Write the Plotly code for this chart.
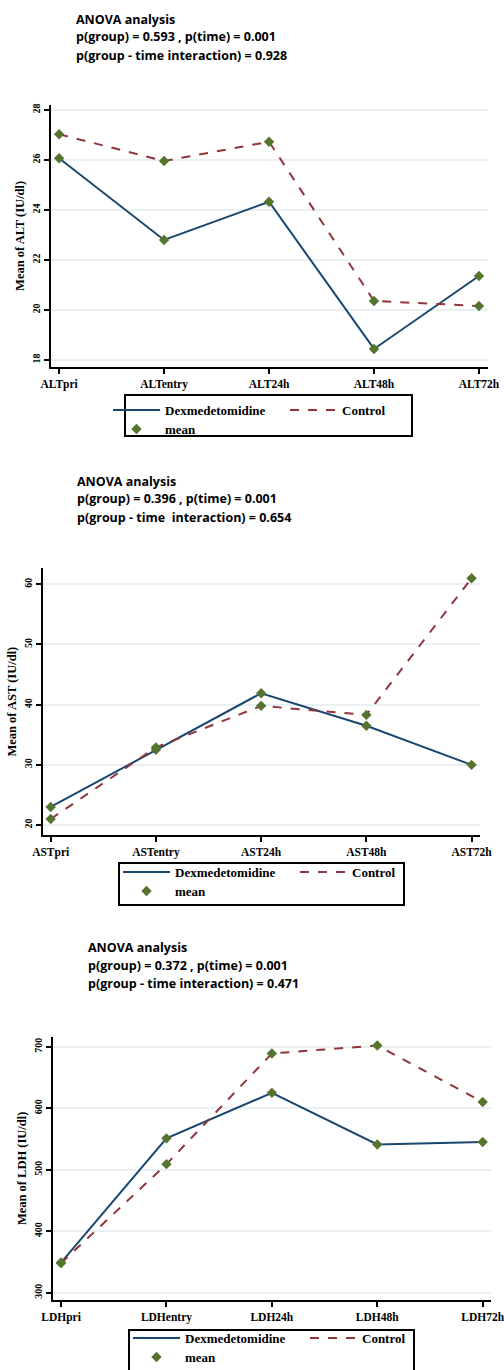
import plotly.graph_objects as go

W, H = 504, 1370

# ---------------- data ----------------
alt_labels = ["ALTpri", "ALTentry", "ALT24h", "ALT48h", "ALT72h"]
alt_dex = [26.07, 22.8, 24.33, 18.44, 21.36]
alt_ctrl = [27.03, 25.96, 26.73, 20.36, 20.16]
alt_ticks = [18, 20, 22, 24, 26, 28]
alt_title = ["ANOVA analysis",
             "p(group) = 0.593 , p(time) = 0.001",
             "p(group - time interaction) = 0.928"]

ast_labels = ["ASTpri", "ASTentry", "AST24h", "AST48h", "AST72h"]
ast_dex = [23.0, 32.5, 41.9, 36.5, 30.0]
ast_ctrl = [21.0, 32.9, 39.8, 38.3, 61.0]
ast_ticks = [20, 30, 40, 50, 60]
ast_title = ["ANOVA analysis",
             "p(group) = 0.396 , p(time) = 0.001",
             "p(group - time  interaction) = 0.654"]

ldh_labels = ["LDHpri", "LDHentry", "LDH24h", "LDH48h", "LDH72h"]
ldh_dex = [349, 551, 625, 541, 545]
ldh_ctrl = [348, 509, 689, 702, 610]
ldh_ticks = [300, 400, 500, 600, 700]
ldh_title = ["ANOVA analysis",
             "p(group) = 0.372 , p(time) = 0.001",
             "p(group - time interaction) = 0.471"]

series_names = ["Dexmedetomidine", "Control", "mean"]
ytitles = ["Mean of ALT (IU/dl)", "Mean of AST (IU/dl)", "Mean of LDH (IU/dl)"]

# ---------------- styling / layout geometry (pixels) ----------------
DEX_C = "#1a476f"
CTRL_C = "#90353b"
MEAN_C = "#55752f"
GRID_C = "#e8f0f2"
SERIF = "Liberation Serif"

panels = [
    dict(labels=alt_labels, dex=alt_dex, ctrl=alt_ctrl, ticks=alt_ticks, title=alt_title,
         px=(50.7, 488), py=(105, 366.7), yr=(17.73, 28.2), xr=(-0.08, 4.086),
         tx=74, ty=(19, 37, 55), leg=(108, 395), box=(125, 395, 412, 436)),
    dict(labels=ast_labels, dex=ast_dex, ctrl=ast_ctrl, ticks=ast_ticks, title=ast_title,
         px=(42.7, 480), py=(568.3, 835), yr=(18.34, 62.66), xr=(-0.076, 4.08),
         tx=75, ty=(481, 499, 517), leg=(118, 857), box=(119, 863, 404, 905)),
    dict(labels=ldh_labels, dex=ldh_dex, ctrl=ldh_ctrl, ticks=ldh_ticks, title=ldh_title,
         px=(52.7, 490.7), py=(1036.7, 1300), yr=(288.1, 716.3), xr=(-0.079, 4.076),
         tx=86, ty=(947, 965, 983), leg=(128, 1323), box=(129, 1330, 414, 1372)),
]

fig = go.Figure()
layout = dict(
    width=W, height=H,
    margin=dict(l=0, r=0, t=0, b=0, autoexpand=False),
    paper_bgcolor="white", plot_bgcolor="white",
    showlegend=True,
    annotations=[], shapes=[],
)

for i, p in enumerate(panels):
    n = "" if i == 0 else str(i + 1)
    xa, ya = "x" + n, "y" + n
    leg_a = "legend" if i == 0 else "legend" + str(2 * i + 1)
    leg_b = "legend" + str(2 * i + 2)

    fig.add_trace(go.Scatter(x=p["labels"], y=p["dex"], mode="lines", name=series_names[0],
                             line=dict(color=DEX_C, width=2), xaxis=xa, yaxis=ya,
                             legend=leg_a))
    fig.add_trace(go.Scatter(x=p["labels"], y=p["ctrl"], mode="lines", name=series_names[1],
                             line=dict(color=CTRL_C, width=2, dash="dash"), xaxis=xa, yaxis=ya,
                             legend=leg_a))
    fig.add_trace(go.Scatter(x=p["labels"] + p["labels"], y=p["dex"] + p["ctrl"], mode="markers",
                             name=series_names[2],
                             marker=dict(color=MEAN_C, size=8, symbol="diamond"),
                             xaxis=xa, yaxis=ya, legend=leg_b))

    x0, x1 = p["px"]
    y0, y1 = p["py"]
    layout["xaxis" + n] = dict(
        domain=[x0 / W, x1 / W], anchor=ya, type="category",
        range=list(p["xr"]), showgrid=False, zeroline=False, automargin=False,
        showline=True, linecolor="black", linewidth=2,
        ticks="outside", ticklen=5, tickwidth=1.5, tickcolor="black",
        tickfont=dict(family=SERIF, size=11.5, color="black", weight="bold"),
        fixedrange=True,
    )
    layout["yaxis" + n] = dict(
        domain=[1 - y1 / H, 1 - y0 / H], anchor=xa, automargin=False,
        range=list(p["yr"]), tickvals=p["ticks"], ticktext=[str(t) for t in p["ticks"]],
        showgrid=True, gridcolor=GRID_C, gridwidth=1.5, zeroline=False,
        showline=True, linecolor="black", linewidth=2,
        ticks="outside", ticklen=5, tickwidth=1.5, tickcolor="black",
        tickangle=-90,
        tickfont=dict(family=SERIF, size=10, color="black", weight="bold"),
        title=dict(text=ytitles[i], standoff=3,
                   font=dict(family=SERIF, size=12.5, color="black", weight="bold")),
        fixedrange=True,
    )
    for line, yy in zip(p["title"], p["ty"]):
        layout["annotations"].append(dict(
            text="<b>" + line + "</b>", xref="paper", yref="paper",
            x=p["tx"] / W, y=1 - yy / H, xanchor="left", yanchor="middle",
            showarrow=False, font=dict(family="Open Sans", size=12.5, color="black"),
        ))
    lx, ly = p["leg"]
    for name, yy in ((leg_a, ly), (leg_b, ly + 19)):
        layout[name] = dict(
            x=lx / W, y=1 - yy / H, xanchor="left", yanchor="top",
            orientation="h", entrywidth=115, entrywidthmode="pixels",
            itemwidth=47, bgcolor="rgba(0,0,0,0)", borderwidth=0,
            font=dict(family=SERIF, size=13, color="black", weight="bold"),
            tracegroupgap=0,
        )
    bx0, by0, bx1, by1 = p["box"]
    layout["shapes"].append(dict(
        type="rect", xref="paper", yref="paper",
        x0=bx0 / W, x1=bx1 / W, y0=1 - by1 / H, y1=1 - by0 / H,
        line=dict(color="black", width=2), fillcolor="rgba(0,0,0,0)", layer="below",
    ))

fig.update_layout(**layout)
fig.write_html("out.html", config={"displayModeBar": False},
               post_script="document.body.style.margin='0';")
